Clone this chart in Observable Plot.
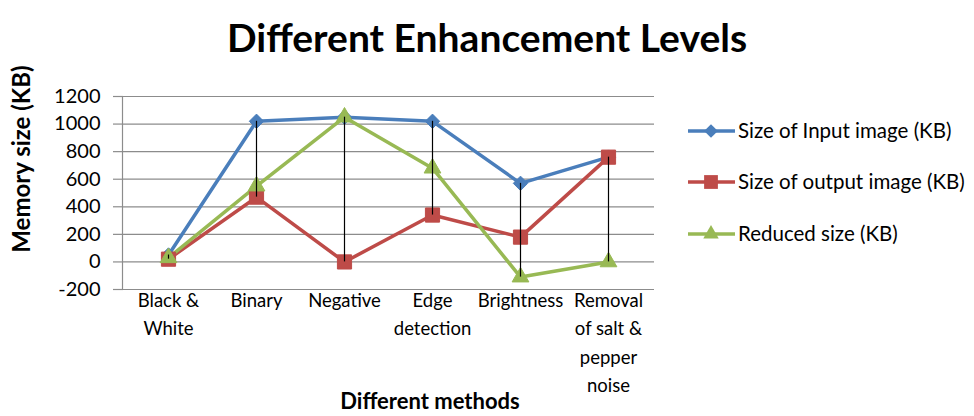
<!DOCTYPE html>
<html><head><meta charset="utf-8">
<script src="https://cdn.jsdelivr.net/npm/d3@7"></script>
<script src="https://cdn.jsdelivr.net/npm/@observablehq/plot@0.6"></script>
<style>
body{margin:0;background:#fff;font-family:Lato,"Open Sans",sans-serif;}
#wrap{position:relative;width:974px;height:416px;overflow:hidden;}
</style></head>
<body><div id="wrap"></div>
<script>
const categories = ["Black & White","Binary","Negative","Edge detection","Brightness","Removal of salt & pepper noise"];
const tickLabels = ["Black &\nWhite","Binary","Negative","Edge\ndetection","Brightness","Removal\nof salt &\npepper\nnoise"];
const seriesNames = ["Size of Input image (KB)","Size of output image (KB)","Reduced size (KB)"];
const inputSize = [50, 1020, 1050, 1020, 570, 760];
const outputSize = [20, 470, 0, 340, 180, 760];
const reducedSize = [30, 550, 1050, 680, -110, 0];
const yTicks = [-200,0,200,400,600,800,1000,1200];
const colors = ["#4a7ebb","#be4b48","#98b954"];
const symbols = ["diamond2","square","triangle2"];
const sizes = [6.5, 8, 8];
const FONT = "Lato, 'Open Sans', sans-serif";

const allSeries = [inputSize, outputSize, reducedSize];
const rows = [];
allSeries.forEach((vals, s) => vals.forEach((v, i) => rows.push({cat: categories[i], value: v, series: seriesNames[s]})));
const hiLo = categories.map((c, i) => ({cat: c, lo: d3.min(allSeries, a => a[i]), hi: d3.max(allSeries, a => a[i])}));

const lineMarks = [];
seriesNames.forEach((name, s) => {
  const d = rows.filter(r => r.series === name);
  lineMarks.push(Plot.line(d, {x: "cat", y: "value", stroke: colors[s], strokeWidth: 3.5}));
});
seriesNames.forEach((name, s) => {
  const d = rows.filter(r => r.series === name);
  lineMarks.push(Plot.dot(d, {x: "cat", y: "value", fill: colors[s], stroke: colors[s], strokeWidth: 1, symbol: symbols[s], r: sizes[s]}));
});

const chart = Plot.plot({
  width: 974, height: 416,
  marginTop: 96, marginBottom: 127, marginLeft: 122, marginRight: 320,
  style: {fontFamily: FONT, fontSize: "18px", color: "#000", background: "transparent"},
  x: {type: "point", domain: categories, padding: 0.5, label: null},
  y: {domain: [-200, 1200], label: null},
  marks: [
    Plot.ruleY(yTicks, {stroke: "#8c8c8c", strokeWidth: 1.2}),
    Plot.axisY(yTicks, {tickSize: 9, tickPadding: 13, stroke: "#8c8c8c", strokeWidth: 1.2, fontSize: 20, tickFormat: d => d < 0 ? "-" + Math.abs(d) : String(d)}),
    Plot.frame({anchor: "left", stroke: "#8c8c8c", strokeWidth: 1.2}),
    Plot.axisX({tickSize: 0, tickPadding: -3, fontSize: 18.5, lineHeight: 1.54, tickFormat: (d, i) => tickLabels[i]}),
    ...lineMarks,
    Plot.ruleX(hiLo, {x: "cat", y1: "lo", y2: "hi", stroke: "#000", strokeWidth: 1.2})
  ]
});
document.getElementById("wrap").appendChild(chart);
chart.style.position = "absolute"; chart.style.left = "0"; chart.style.top = "0";

// overlay: titles and legend
const ov = d3.select("#wrap").append("svg").attr("width",974).attr("height",416)
  .style("position","absolute").style("left","0").style("top","0").attr("font-family", FONT);
ov.append("text").attr("x",487).attr("y",52).attr("text-anchor","middle").attr("font-weight","bold").attr("font-size",39).text("Different Enhancement Levels");
ov.append("text").attr("transform","translate(30,159) rotate(-90)").attr("text-anchor","middle").attr("font-weight","bold").attr("font-size",24).text("Memory size (KB)");
ov.append("text").attr("x",430).attr("y",409).attr("text-anchor","middle").attr("font-weight","bold").attr("font-size",22).text("Different methods");

const legY = [131, 182, 234];
seriesNames.forEach((name, s) => {
  const g = ov.append("g").attr("transform", `translate(0,${legY[s]})`);
  g.append("line").attr("x1",688).attr("x2",735).attr("y1",0).attr("y2",0).attr("stroke",colors[s]).attr("stroke-width",3.5);
  const sym = d3.symbol().type(s===0 ? d3.symbolDiamond2 : s===1 ? d3.symbolSquare : d3.symbolTriangle2).size(s===0?120:s===1?190:170);
  g.append("path").attr("d", sym()).attr("transform","translate(711,0)").attr("fill",colors[s]);
  g.append("text").attr("x",738).attr("y",0).attr("dy","0.35em").attr("font-size",20.5).text(name);
});
</script></body></html>
